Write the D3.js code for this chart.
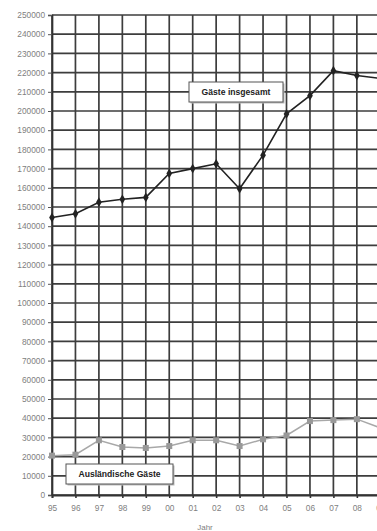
<!DOCTYPE html>
<html>
<head>
<meta charset="utf-8">
<script src="https://cdn.jsdelivr.net/npm/d3@7"></script>
<style>
  html, body { margin: 0; padding: 0; background: #fff; }
  svg { display: block; font-family: "Liberation Sans", Arial, sans-serif; }
</style>
</head>
<body>
<svg id="chart" width="377" height="531"></svg>
<script>
// Jahre (zweistellig) und Gästezahlen
const years = ["95", "96", "97", "98", "99", "00", "01", "02", "03", "04", "05", "06", "07", "08", "09"];
const gaesteInsgesamt = [144500, 146500, 152500, 154000, 155000, 167500, 170000, 172500, 159500, 177000, 198500, 208000, 221000, 218500, 217000];
const auslaendischeGaeste = [20500, 21000, 28500, 25000, 24500, 25500, 28500, 28500, 25500, 29000, 31000, 38500, 39000, 39500, 35000];
const yTicks = d3.range(0, 250001, 10000);

const svg = d3.select("#chart");
const W = 377, H = 531;
const plotLeft = 52, plotTop = 15, plotBottom = 495;
const step = 23.45;

const x = d3.scalePoint()
  .domain(years)
  .range([plotLeft, plotLeft + step * (years.length - 1)]);
const y = d3.scaleLinear().domain([0, 250000]).range([plotBottom, plotTop]);

const grid = svg.append("g");
// horizontal grid lines
grid.selectAll("line.h").data(yTicks).join("line")
  .attr("x1", plotLeft).attr("x2", W + 20)
  .attr("y1", d => y(d)).attr("y2", d => y(d))
  .attr("stroke", "#3d3d3d").attr("stroke-width", 1.7);
// vertical grid lines
grid.selectAll("line.v").data(years).join("line")
  .attr("x1", d => x(d)).attr("x2", d => x(d))
  .attr("y1", plotTop).attr("y2", plotBottom)
  .attr("stroke", "#3d3d3d").attr("stroke-width", 1.7);

// y axis
const yAxis = d3.axisLeft(y).tickValues(yTicks).tickSize(4).tickPadding(3)
  .tickFormat(d3.format("d"));
const gy = svg.append("g").attr("transform", `translate(${plotLeft},0)`).call(yAxis);
gy.select(".domain").attr("stroke", "#333").attr("stroke-width", 1.7);
gy.selectAll(".tick line").attr("stroke", "#555");
gy.selectAll(".tick text").attr("fill", "#808080").attr("font-size", 8.3)
  .attr("font-family", "Liberation Sans, Arial, sans-serif");

// x axis
const xAxis = d3.axisBottom(x).tickSize(3).tickPadding(7);
const gx = svg.append("g").attr("transform", `translate(0,${plotBottom})`).call(xAxis);
gx.select(".domain").attr("stroke", "#333").attr("stroke-width", 1.8);
gx.selectAll(".tick line").attr("stroke", "#333").attr("stroke-width", 1.6);
gx.selectAll(".tick text").attr("fill", "#808080").attr("font-size", 8.3)
  .attr("font-family", "Liberation Sans, Arial, sans-serif");

svg.append("text").attr("x", 205).attr("y", 529.5).attr("text-anchor", "middle")
  .attr("fill", "#808080").attr("font-size", 8).text("Jahr");

const line = d3.line().x((d, i) => x(years[i])).y(d => y(d));

// Ausländische Gäste
svg.append("path").datum(auslaendischeGaeste)
  .attr("d", line).attr("fill", "none")
  .attr("stroke", "#a8a8a8").attr("stroke-width", 1.5);
svg.selectAll("rect.aus").data(auslaendischeGaeste).join("rect")
  .attr("x", (d, i) => x(years[i]) - 3).attr("y", d => y(d) - 3)
  .attr("width", 6).attr("height", 6).attr("fill", "#999");

// Gäste insgesamt
svg.append("path").datum(gaesteInsgesamt)
  .attr("d", line).attr("fill", "none")
  .attr("stroke", "#222").attr("stroke-width", 1.6);
svg.selectAll("path.ges").data(gaesteInsgesamt).join("path")
  .attr("d", d3.symbol(d3.symbolDiamond, 28))
  .attr("transform", (d, i) => `translate(${x(years[i])},${y(d)})`)
  .attr("fill", "#222");

// Beschriftungsboxen
function labelBox(x0, y0, w, h, txt) {
  const g = svg.append("g");
  g.append("rect").attr("x", x0 + 1.5).attr("y", y0 + 1.5).attr("width", w).attr("height", h)
    .attr("fill", "#bbb");
  g.append("rect").attr("x", x0).attr("y", y0).attr("width", w).attr("height", h)
    .attr("fill", "#fff").attr("stroke", "#555").attr("stroke-width", 1);
  g.append("text").attr("x", x0 + w / 2).attr("y", y0 + h / 2 + 3.2)
    .attr("text-anchor", "middle").attr("font-size", 8.6).attr("font-weight", "bold")
    .attr("fill", "#222").text(txt);
}
labelBox(189, 82, 94, 20, "Gäste insgesamt");
labelBox(66, 464, 107, 20, "Ausländische Gäste");
</script>
</body>
</html>
